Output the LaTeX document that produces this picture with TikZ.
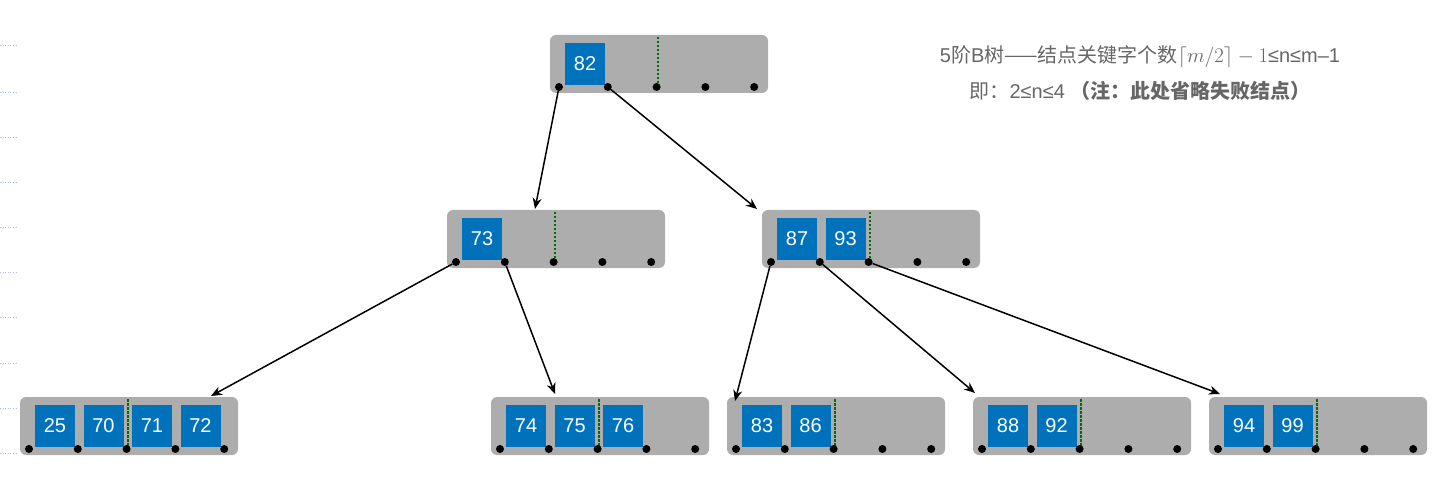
\documentclass[tikz,border=0pt]{standalone}
\usepackage{fontspec}
\setmainfont{Liberation Sans}
\newfontfamily\cjk{Noto Sans CJK SC}
\usetikzlibrary{arrows.meta}
\definecolor{keyblue}{HTML}{0072BC}
\definecolor{boxgray}{HTML}{ADADAD}
\definecolor{txtgray}{HTML}{666666}
\tikzset{
  box/.style={fill=boxgray,rounded corners=6pt,draw=none},
  key/.style={fill=keyblue,minimum width=40pt,minimum height=42pt,inner sep=0pt,text=white,font=\fontsize{20}{20}\selectfont},
  pdot/.style={circle,fill=black,inner sep=0pt,minimum size=8pt},
  green/.style={draw={rgb,255:red,0;green,110;blue,0},line width=2.5pt,dash pattern=on 2.5pt off 1.5pt},
  arr/.style={-{Stealth[length=11pt,width=9pt]},line width=1.5pt},
  grid/.style={draw={rgb,255:red,170;green,190;blue,230},dotted,line width=0.6pt}
}
\newcommand\BN[4]{%
  \fill[box] (#2,#3) rectangle ++(218,58);
  \draw[green] (#2+108,#3+2) -- (#2+108,#3+52);
  \foreach \k [count=\i from 0] in {#4} {
    \node[key] (#1-k\i) at (#2+35+48.5*\i,#3+29) {\k};
  }
  \foreach \i in {0,...,4} {
    \node[pdot] (#1-d\i) at (#2+9+48.8*\i,#3+52) {};
  }
}
\begin{document}
\begin{tikzpicture}[x=1pt,y=-1pt]
\useasboundingbox (0,0) rectangle (1454,497);
\foreach \yy in {45,92,137,182,227,272,317,363,408,453}
  \draw[grid] (0,\yy) -- (17,\yy);
\BN{r}{550}{35}{82}
\BN{a}{447}{210}{73}
\BN{b}{762}{210}{87,93}
\BN{l1}{20}{397}{25,70,71,72}
\BN{l2}{491}{397}{74,75,76}
\BN{l3}{727}{397}{83,86}
\BN{l4}{973}{397}{88,92}
\BN{l5}{1209}{397}{94,99}
\coordinate (ta) at (535,209);
\coordinate (tb) at (757,209);
\coordinate (t1) at (211,396);
\coordinate (t2) at (555,394);
\coordinate (t3) at (735,401);
\coordinate (t4) at (975,393);
\coordinate (t5) at (1220,394);
\draw[arr] (r-d0) -- (ta);
\draw[arr] (r-d1) -- (tb);
\draw[arr] (a-d0) -- (t1);
\draw[arr] (a-d1) -- (t2);
\draw[arr] (b-d0) -- (t3);
\draw[arr] (b-d1) -- (t4);
\draw[arr] (b-d2) -- (t5);
\node[text=txtgray,font=\fontsize{20}{20}\selectfont] (t1txt) at (1140,57) {5{\cjk 阶}B{\cjk 树——结点关键字个数}$\lceil m/2\rceil-1$≤n≤m–1};
\node[text=txtgray,font=\fontsize{20}{20}\selectfont] (t2txt) at (1140,91) {{\cjk 即：}2≤n≤4 {\cjk\bfseries （注：此处省略失败结点）}};
\end{tikzpicture}
\end{document}
